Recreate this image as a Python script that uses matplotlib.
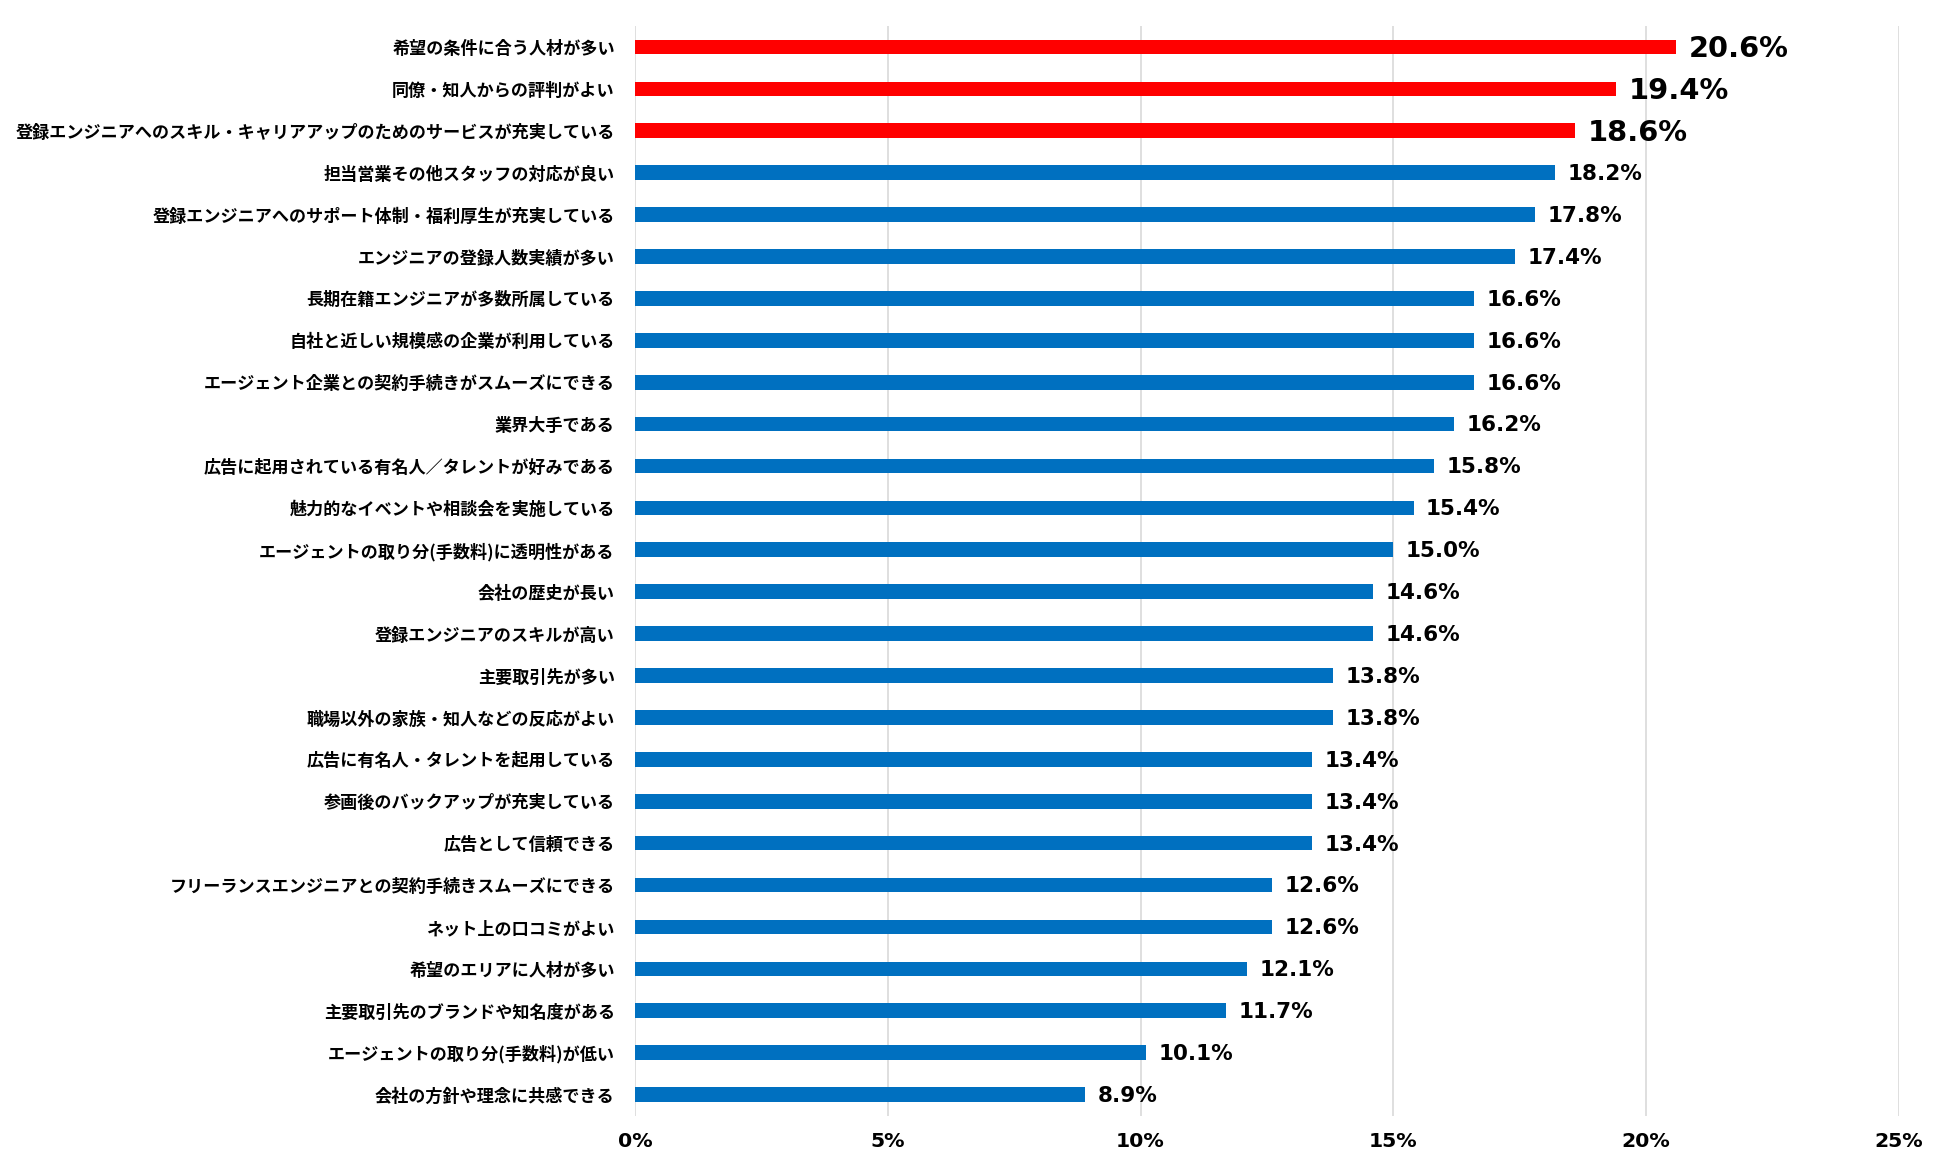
import matplotlib
matplotlib.use('Agg')
import matplotlib.pyplot as plt
from matplotlib.ticker import FuncFormatter

# 項目（上から順）
labels = [
    '希望の条件に合う人材が多い',
    '同僚・知人からの評判がよい',
    '登録エンジニアへのスキル・キャリアアップのためのサービスが充実している',
    '担当営業その他スタッフの対応が良い',
    '登録エンジニアへのサポート体制・福利厚生が充実している',
    'エンジニアの登録人数実績が多い',
    '長期在籍エンジニアが多数所属している',
    '自社と近しい規模感の企業が利用している',
    'エージェント企業との契約手続きがスムーズにできる',
    '業界大手である',
    '広告に起用されている有名人／タレントが好みである',
    '魅力的なイベントや相談会を実施している',
    'エージェントの取り分(手数料)に透明性がある',
    '会社の歴史が長い',
    '登録エンジニアのスキルが高い',
    '主要取引先が多い',
    '職場以外の家族・知人などの反応がよい',
    '広告に有名人・タレントを起用している',
    '参画後のバックアップが充実している',
    '広告として信頼できる',
    'フリーランスエンジニアとの契約手続きスムーズにできる',
    'ネット上の口コミがよい',
    '希望のエリアに人材が多い',
    '主要取引先のブランドや知名度がある',
    'エージェントの取り分(手数料)が低い',
    '会社の方針や理念に共感できる',
]
values = [20.6, 19.4, 18.6, 18.2, 17.8, 17.4, 16.6, 16.6, 16.6, 16.2, 15.8, 15.4,
          15.0, 14.6, 14.6, 13.8, 13.8, 13.4, 13.4, 13.4, 12.6, 12.6, 12.1, 11.7,
          10.1, 8.9]
top_n = 3  # 上位3つを赤で強調
xticks = [0, 5, 10, 15, 20, 25]

plt.rcParams['font.family'] = ['Noto Sans CJK JP', 'DejaVu Sans']

fig = plt.figure(figsize=(19.5, 11.72), dpi=100)
ax = fig.add_axes([0.3256, 0.0482, 0.6482, 0.9296])

ypos = list(range(len(values)))
colors = ['#FF0000' if i < top_n else '#0070C0' for i in ypos]
ax.barh(ypos, values, height=0.35, color=colors, zorder=3)

ax.set_ylim(len(values) - 0.5, -0.5)
ax.set_xlim(0, 25)
ax.set_yticks(ypos)
ax.set_yticklabels(labels, fontsize=12.3, fontweight='bold')
ax.set_xticks(xticks)
ax.xaxis.set_major_formatter(FuncFormatter(lambda v, p: f'{v:.0f}%'))
for t in ax.get_xticklabels():
    t.set_fontweight('bold')
    t.set_fontsize(14.7)
    t.set_family('DejaVu Sans')
ax.tick_params(axis='y', length=0, pad=14.5)
ax.tick_params(axis='x', length=0, pad=12)
ax.grid(True, axis='x', color='#D9D9D9', linewidth=1.2, zorder=0)
for s in ax.spines.values():
    s.set_visible(False)

for i, v in enumerate(values):
    big = i < top_n
    ax.annotate(f'{v:.1f}%', (v, i), xytext=(9, -1.5 if big else -1),
                textcoords='offset points', va='center', ha='left',
                fontweight='bold', fontsize=20.8 if big else 15.5,
                family='DejaVu Sans')

fig.savefig('out.png', dpi=100, facecolor='white')
